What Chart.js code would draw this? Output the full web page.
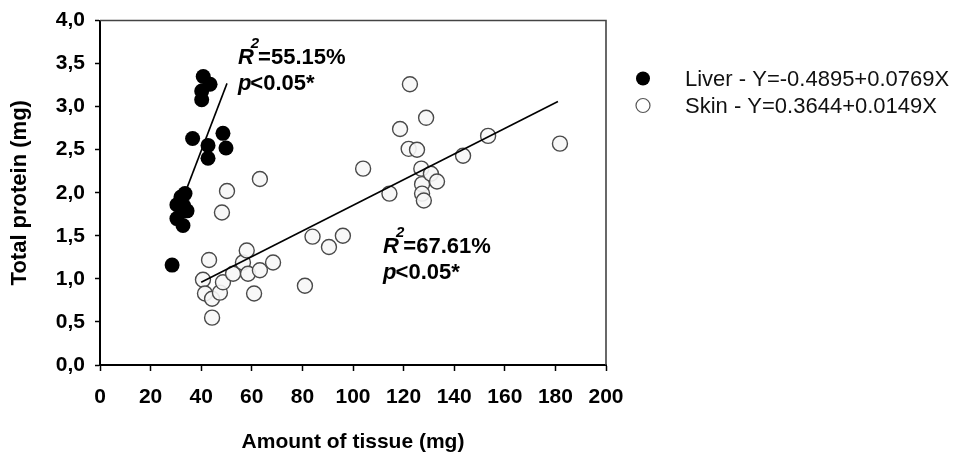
<!DOCTYPE html>
<html>
<head>
<meta charset="utf-8">
<script src="https://cdn.jsdelivr.net/npm/chart.js@4.4.1/dist/chart.umd.min.js"></script>
<style>
    html, body { margin: 0; padding: 0; background: #fff; }
    #wrap { width: 960px; height: 455px; }
</style>
</head>
<body>
<div id="wrap"><canvas id="myChart"></canvas></div>
<script>
// values
var liverX = [28.5, 30.4, 30.4, 31.6, 32.8, 33.6, 34.4, 32.0, 33.0, 36.6, 40.8, 43.5, 40.2, 40.2, 42.7, 42.7, 48.6, 49.8];
var liverY = [1.16, 1.70, 1.86, 1.88, 1.62, 1.99, 1.79, 1.95, 1.85, 2.63, 3.35, 3.26, 3.18, 3.08, 2.55, 2.40, 2.69, 2.52];

var skinX = [40.7, 41.5, 43.1, 44.3, 44.3, 47.4, 48.6, 48.2, 50.2, 52.6, 56.5, 58.0, 58.5, 60.9, 63.2, 63.2, 68.4,
             81.0, 84.0, 90.5, 96.0, 104.0, 114.4, 118.6, 122.5, 122.0, 125.3, 127.0, 127.3, 127.3, 128.0, 128.9,
             130.8, 133.2, 143.5, 153.4, 181.8];
var skinY = [0.99, 0.83, 1.22, 0.77, 0.55, 0.84, 0.96, 1.77, 2.02, 1.06, 1.19, 1.33, 1.06, 0.83, 1.10, 2.16, 1.19,
             0.92, 1.49, 1.37, 1.50, 2.28, 1.99, 2.74, 3.26, 2.51, 2.50, 2.28, 2.10, 1.99, 1.91, 2.87,
             2.22, 2.13, 2.43, 2.66, 2.57];

// regression lines (end points)
var liverFitX = [30, 50.2];
var liverFitY = [1.72, 3.27];
var skinFitX = [40, 181];
var skinFitY = [0.96, 3.06];

var seriesLabels = ['Liver - Y=-0.4895+0.0769X', 'Skin - Y=0.3644+0.0149X'];
var xTickLabels = ['0', '20', '40', '60', '80', '100', '120', '140', '160', '180', '200'];
var yTickLabels = ['0,0', '0,5', '1,0', '1,5', '2,0', '2,5', '3,0', '3,5', '4,0'];
var fitNotes = [['55.15%', 'p<0.05*'], ['67.61%', 'p<0.05*']];

function toPoints(xs, ys) {
    return xs.map(function (x, i) { return { x: x, y: ys[i] }; });
}

var FONT = "'Liberation Sans', Arial, Helvetica, sans-serif";

// legend at the right of the plot
var sideLegend = {
    id: 'sideLegend',
    afterDraw: function (chart) {
        var ctx = chart.ctx, area = chart.chartArea;
        ctx.save();
        ctx.font = '22px ' + FONT;
        ctx.textBaseline = 'middle';
        var rows = [
            { y: area.top + 58, filled: true },
            { y: area.top + 85, filled: false }
        ];
        rows.forEach(function (r, i) {
            ctx.beginPath();
            ctx.arc(area.right + 37, r.y, 7, 0, Math.PI * 2);
            if (r.filled) {
                ctx.fillStyle = '#000';
                ctx.fill();
            } else {
                ctx.fillStyle = '#fff';
                ctx.fill();
                ctx.lineWidth = 1.2;
                ctx.strokeStyle = '#555';
                ctx.stroke();
            }
            ctx.fillStyle = '#111';
            ctx.fillText(seriesLabels[i], area.right + 79, r.y + 1);
        });
        ctx.restore();
    }
};

// R2 / p notes and the plot frame
var notes = {
    id: 'notes',
    afterDraw: function (chart) {
        var ctx = chart.ctx, area = chart.chartArea;
        var xs = chart.scales.x, ys = chart.scales.y;
        var spots = [{ x: 54.5, y: 3.50 }, { x: 111.9, y: 1.295 }];
        ctx.save();
        ctx.fillStyle = '#000';
        ctx.textBaseline = 'alphabetic';
        spots.forEach(function (s, i) {
            var px = xs.getPixelForValue(s.x);
            var py = ys.getPixelForValue(s.y);
            ctx.font = 'italic bold 22px ' + FONT;
            ctx.fillText('R', px, py);
            var w = ctx.measureText('R').width;
            ctx.font = 'italic bold 15px ' + FONT;
            ctx.fillText('2', px + w - 3, py - 16);
            var w2 = ctx.measureText('2').width;
            ctx.font = 'bold 22px ' + FONT;
            ctx.fillText('=' + fitNotes[i][0], px + w + w2 - 4, py);
            var py2 = py + 26;
            ctx.font = 'italic bold 22px ' + FONT;
            ctx.fillText('p', px, py2);
            var wp = ctx.measureText('p').width;
            ctx.font = 'bold 22px ' + FONT;
            ctx.fillText(fitNotes[i][1].slice(1), px + wp - 1, py2);
        });
        // top and right frame
        ctx.strokeStyle = '#444';
        ctx.lineWidth = 1.6;
        ctx.beginPath();
        ctx.moveTo(area.left, area.top);
        ctx.lineTo(area.right, area.top);
        ctx.lineTo(area.right, area.bottom);
        ctx.stroke();
        ctx.restore();
    }
};

var ctx = document.getElementById('myChart').getContext('2d');
var chart = new Chart(ctx, {
    type: 'scatter',
    data: {
        datasets: [
            {
                label: 'Skin fit',
                type: 'line',
                data: toPoints(skinFitX, skinFitY),
                borderColor: '#000',
                borderWidth: 1.6,
                pointRadius: 0,
                fill: false,
                order: 0
            },
            {
                label: 'Liver fit',
                type: 'line',
                data: toPoints(liverFitX, liverFitY),
                borderColor: '#000',
                borderWidth: 1.6,
                pointRadius: 0,
                fill: false,
                order: 0
            },
            {
                label: seriesLabels[1],
                data: toPoints(skinX, skinY),
                backgroundColor: 'rgba(247,247,247,0.9)',
                borderColor: '#4a4a4a',
                borderWidth: 1.4,
                pointRadius: 7.5,
                order: 2
            },
            {
                label: seriesLabels[0],
                data: toPoints(liverX, liverY),
                backgroundColor: '#000',
                borderColor: '#000',
                borderWidth: 0,
                pointRadius: 7.5,
                order: 1
            }
        ]
    },
    options: {
        responsive: true,
        maintainAspectRatio: false,
        animation: false,
        layout: { padding: { left: 0, right: 354, top: 19, bottom: 0 } },
        plugins: {
            legend: { display: false },
            tooltip: { enabled: false }
        },
        scales: {
            x: {
                type: 'linear',
                min: 0,
                max: 200,
                afterFit: function (scale) { scale.height = 90; },
                afterBuildTicks: function (scale) {
                    scale.ticks = xTickLabels.map(function (t) { return { value: Number(t) }; });
                },
                ticks: {
                    color: '#000',
                    padding: 14,
                    maxRotation: 0,
                    font: { family: FONT, size: 21, weight: 'bold' },
                    callback: function (v, i) { return xTickLabels[i]; }
                },
                grid: {
                    drawOnChartArea: false,
                    drawTicks: true,
                    tickLength: 6,
                    tickColor: '#000',
                    tickWidth: 1.5
                },
                border: { display: true, color: '#000', width: 2 },
                title: {
                    display: true,
                    text: 'Amount of tissue (mg)',
                    color: '#000',
                    font: { family: FONT, size: 21, weight: 'bold' },
                    padding: { top: 0, bottom: 0 }
                }
            },
            y: {
                type: 'linear',
                min: 0,
                max: 4,
                afterFit: function (scale) { scale.width = 100; },
                afterBuildTicks: function (scale) {
                    scale.ticks = yTickLabels.map(function (t) { return { value: Number(t.replace(',', '.')) }; });
                },
                ticks: {
                    color: '#000',
                    padding: 10,
                    font: { family: FONT, size: 21, weight: 'bold', lineHeight: 1 },
                    callback: function (v, i) { return yTickLabels[i]; }
                },
                grid: {
                    drawOnChartArea: false,
                    drawTicks: true,
                    tickLength: 5,
                    tickColor: '#000',
                    tickWidth: 1.5
                },
                border: { display: true, color: '#000', width: 2 },
                title: {
                    display: true,
                    text: 'Total protein (mg)',
                    color: '#000',
                    font: { family: FONT, size: 22, weight: 'bold' },
                    padding: { top: 7, bottom: 0 }
                }
            }
        }
    },
    plugins: [sideLegend, notes]
});
</script>
</body>
</html>
